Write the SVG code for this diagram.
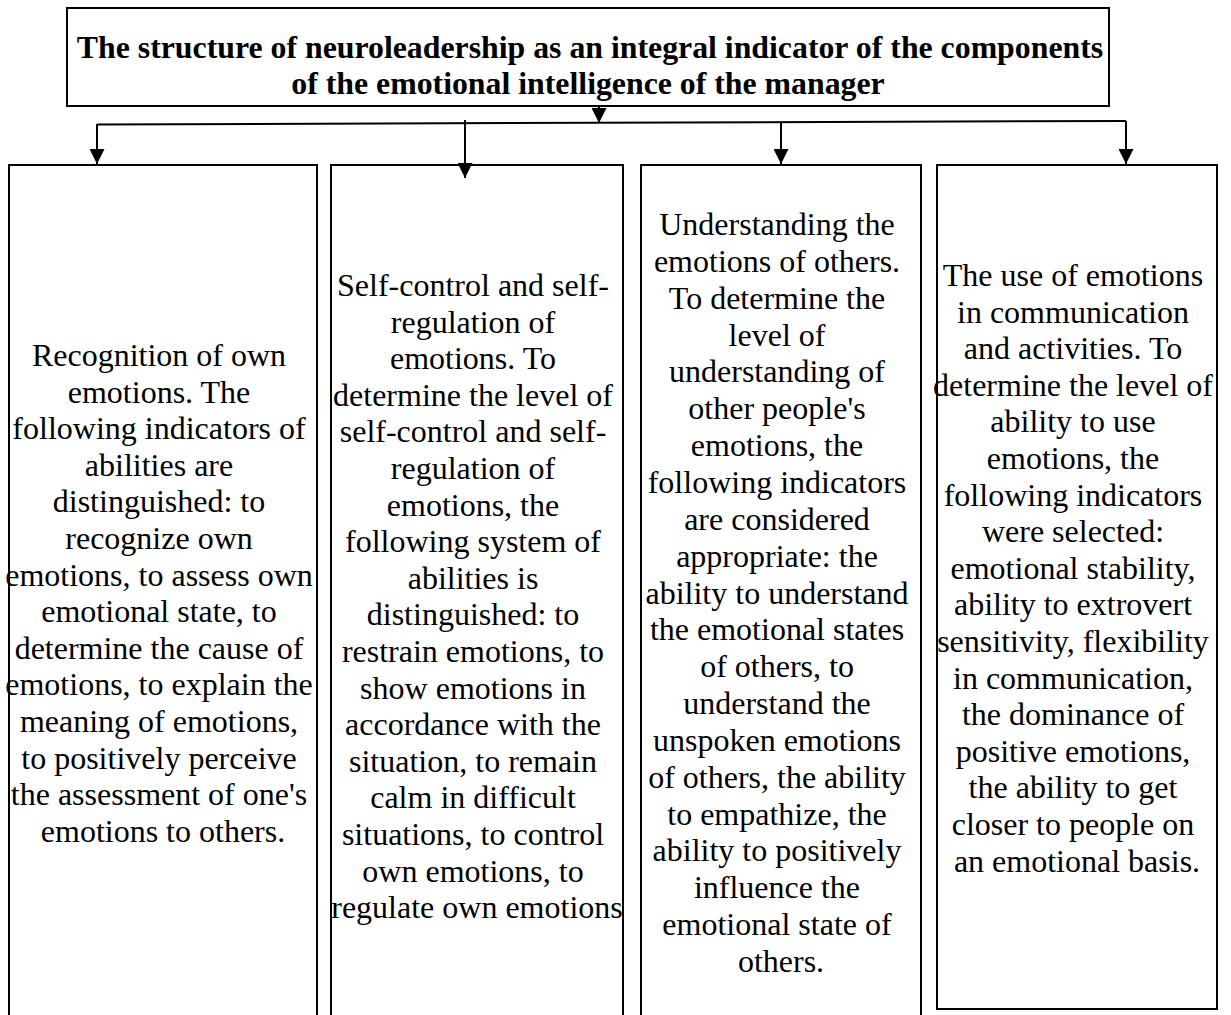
<svg xmlns="http://www.w3.org/2000/svg" width="1231" height="1015" viewBox="0 0 1231 1015">
<style>
.box{fill:#fff;stroke:#000;stroke-width:2}
.title{font-family:'Liberation Serif','Times New Roman',Tinos,serif;font-weight:bold;font-size:31.8px;text-anchor:middle;fill:#000}
.t{font-family:'Liberation Serif','Times New Roman',Tinos,serif;font-size:32px;text-anchor:middle;fill:#000}
.conn{stroke:#000;stroke-width:2;fill:none}
</style>
<defs>
<marker id="ah" viewBox="0 0 15 15" refX="15" refY="7.5" markerWidth="15" markerHeight="15" markerUnits="userSpaceOnUse" orient="auto">
<path d="M0,0 L15,7.5 L0,15 Z" fill="#000"/>
</marker>
</defs>
<rect width="1231" height="1015" fill="#fff"/>
<g id="title">
<rect class="box" x="67" y="8" width="1042" height="98"/>
<text class="title" x="590" y="58">The structure of neuroleadership as an integral indicator of the components</text>
<text class="title" x="588" y="94">of the emotional intelligence of the manager</text>
</g>
<g id="box1">
<rect class="box" x="9" y="165" width="308" height="860"/>
<text class="t">
<tspan x="163" y="366">Recognition of own</tspan>
<tspan x="163" dy="36.6">emotions. The</tspan>
<tspan x="163" dy="36.6">following indicators of</tspan>
<tspan x="163" dy="36.6">abilities are</tspan>
<tspan x="163" dy="36.6">distinguished: to</tspan>
<tspan x="163" dy="36.6">recognize own</tspan>
<tspan x="163" dy="36.6">emotions, to assess own</tspan>
<tspan x="163" dy="36.6">emotional state, to</tspan>
<tspan x="163" dy="36.6">determine the cause of</tspan>
<tspan x="163" dy="36.6">emotions, to explain the</tspan>
<tspan x="163" dy="36.6">meaning of emotions,</tspan>
<tspan x="163" dy="36.6">to positively perceive</tspan>
<tspan x="163" dy="36.6">the assessment of one's</tspan>
<tspan x="163" dy="36.6">emotions to others.</tspan>
</text>
</g>
<g id="box2">
<rect class="box" x="331" y="165" width="292" height="860"/>
<text class="t">
<tspan x="477" y="296">Self-control and self-</tspan>
<tspan x="477" dy="36.6">regulation of</tspan>
<tspan x="477" dy="36.6">emotions. To</tspan>
<tspan x="477" dy="36.6">determine the level of</tspan>
<tspan x="477" dy="36.6">self-control and self-</tspan>
<tspan x="477" dy="36.6">regulation of</tspan>
<tspan x="477" dy="36.6">emotions, the</tspan>
<tspan x="477" dy="36.6">following system of</tspan>
<tspan x="477" dy="36.6">abilities is</tspan>
<tspan x="477" dy="36.6">distinguished: to</tspan>
<tspan x="477" dy="36.6">restrain emotions, to</tspan>
<tspan x="477" dy="36.6">show emotions in</tspan>
<tspan x="477" dy="36.6">accordance with the</tspan>
<tspan x="477" dy="36.6">situation, to remain</tspan>
<tspan x="477" dy="36.6">calm in difficult</tspan>
<tspan x="477" dy="36.6">situations, to control</tspan>
<tspan x="477" dy="36.6">own emotions, to</tspan>
<tspan x="477" dy="36.6">regulate own emotions</tspan>
</text>
</g>
<g id="box3">
<rect class="box" x="641" y="165" width="280" height="860"/>
<text class="t">
<tspan x="781" y="235">Understanding the</tspan>
<tspan x="781" dy="36.85">emotions of others.</tspan>
<tspan x="781" dy="36.85">To determine the</tspan>
<tspan x="781" dy="36.85">level of</tspan>
<tspan x="781" dy="36.85">understanding of</tspan>
<tspan x="781" dy="36.85">other people's</tspan>
<tspan x="781" dy="36.85">emotions, the</tspan>
<tspan x="781" dy="36.85">following indicators</tspan>
<tspan x="781" dy="36.85">are considered</tspan>
<tspan x="781" dy="36.85">appropriate: the</tspan>
<tspan x="781" dy="36.85">ability to understand</tspan>
<tspan x="781" dy="36.85">the emotional states</tspan>
<tspan x="781" dy="36.85">of others, to</tspan>
<tspan x="781" dy="36.85">understand the</tspan>
<tspan x="781" dy="36.85">unspoken emotions</tspan>
<tspan x="781" dy="36.85">of others, the ability</tspan>
<tspan x="781" dy="36.85">to empathize, the</tspan>
<tspan x="781" dy="36.85">ability to positively</tspan>
<tspan x="781" dy="36.85">influence the</tspan>
<tspan x="781" dy="36.85">emotional state of</tspan>
<tspan x="781" dy="36.85">others.</tspan>
</text>
</g>
<g id="box4">
<rect class="box" x="937" y="165" width="280" height="844"/>
<text class="t">
<tspan x="1077" y="286">The use of emotions</tspan>
<tspan x="1077" dy="36.6">in communication</tspan>
<tspan x="1077" dy="36.6">and activities. To</tspan>
<tspan x="1077" dy="36.6">determine the level of</tspan>
<tspan x="1077" dy="36.6">ability to use</tspan>
<tspan x="1077" dy="36.6">emotions, the</tspan>
<tspan x="1077" dy="36.6">following indicators</tspan>
<tspan x="1077" dy="36.6">were selected:</tspan>
<tspan x="1077" dy="36.6">emotional stability,</tspan>
<tspan x="1077" dy="36.6">ability to extrovert</tspan>
<tspan x="1077" dy="36.6">sensitivity, flexibility</tspan>
<tspan x="1077" dy="36.6">in communication,</tspan>
<tspan x="1077" dy="36.6">the dominance of</tspan>
<tspan x="1077" dy="36.6">positive emotions,</tspan>
<tspan x="1077" dy="36.6">the ability to get</tspan>
<tspan x="1077" dy="36.6">closer to people on</tspan>
<tspan x="1077" dy="36.6">an emotional basis.</tspan>
</text>
</g>
<g id="connectors">
<line class="conn" x1="97" y1="124.5" x2="1126" y2="121"/>
<line class="conn" x1="599" y1="106" x2="599" y2="123" marker-end="url(#ah)"/>
<line class="conn" x1="97" y1="124" x2="97" y2="164" marker-end="url(#ah)"/>
<line class="conn" x1="465" y1="120" x2="465" y2="178" marker-end="url(#ah)"/>
<line class="conn" x1="781" y1="123" x2="781" y2="164" marker-end="url(#ah)"/>
<line class="conn" x1="1126" y1="121" x2="1126" y2="164" marker-end="url(#ah)"/>
</g>
</svg>
